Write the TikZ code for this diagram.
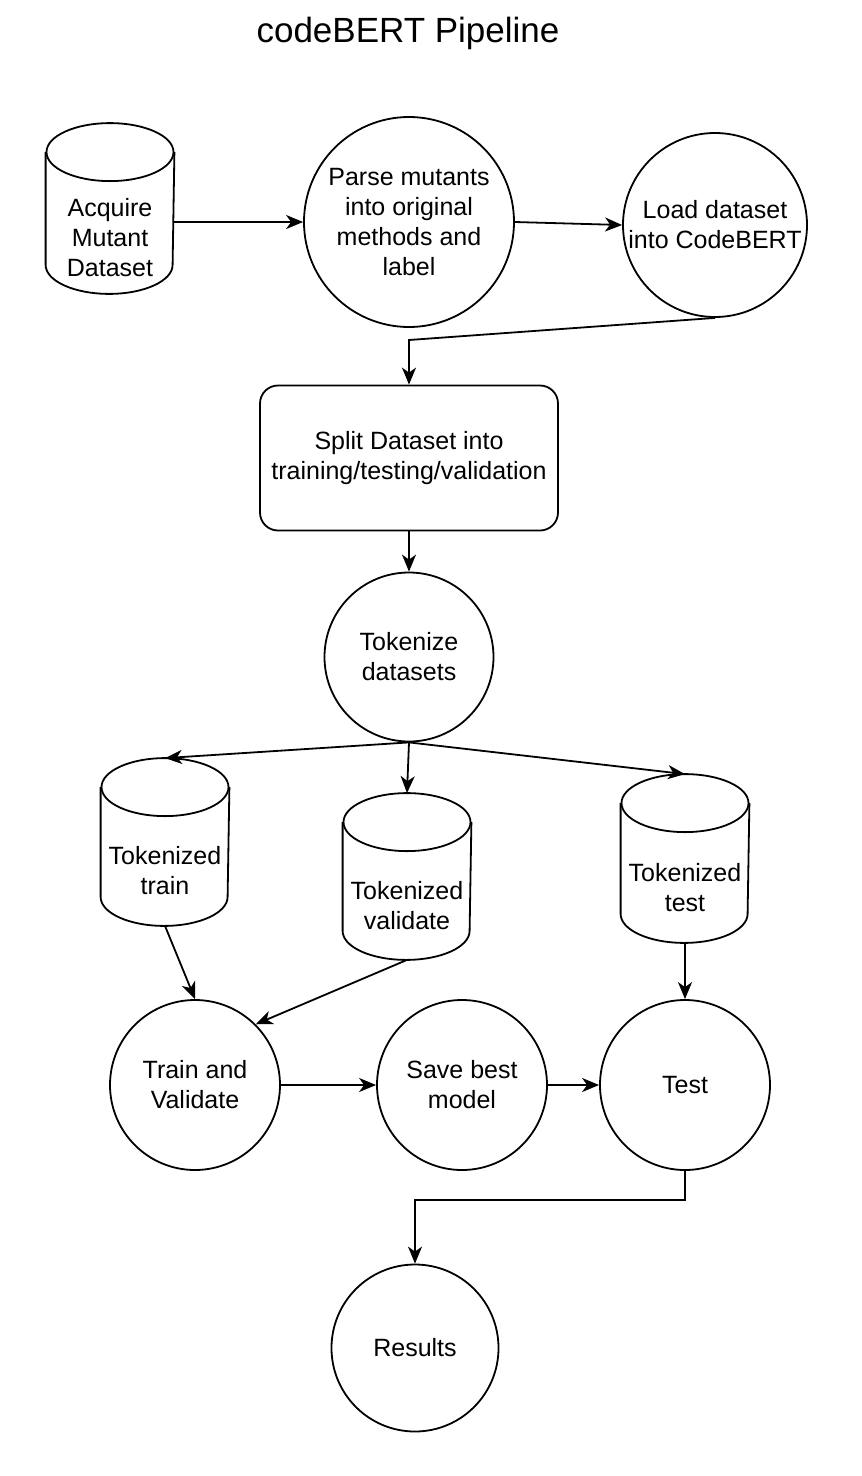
\documentclass[tikz,border=0pt]{standalone}
\usepackage{fontspec}
\setmainfont{Liberation Sans}
\usepackage{tikz}
\usetikzlibrary{arrows.meta}
\usetikzlibrary{calc}
\def\capry{29}
\tikzset{base/.style={draw, line width=1.8pt, align=center, inner sep=0pt,
        font=\fontsize{25}{30}\selectfont},
    process/.style={base, circle},
    tank/.style={base, draw=none, rectangle, minimum width=127pt, minimum height=#1},
    splitbox/.style={base, rectangle, rounded corners=18pt, minimum width=298pt, minimum height=145pt},
    arr/.style={line width=1.8pt, -{Stealth[length=17pt,width=14pt,inset=5pt]}}}
% cylinder outline round the body node #1
\newcommand{\drawtank}[1]{%
    \draw[line width=1.8pt] ($(#1.north west)+(0,-\capry)$) -- ($(#1.south west)+(0,-\capry)$)
        arc[start angle=180, end angle=360, x radius=63.5pt, y radius=\capry pt]
        -- ($(#1.north east)+(0,-\capry)$);
    \draw[line width=1.8pt] ($(#1.north)+(0,-\capry)$) ellipse [x radius=63.5pt, y radius=\capry pt];
    \coordinate (#1 top) at ($(#1.north)+(0,-2*\capry)$);
}

\begin{document}
\begin{tikzpicture}[x=1pt,y=-1pt]
    \useasboundingbox (0,0) rectangle (862,1476);
    \node[font=\fontsize{35}{42}\selectfont] (title) at (408,33) {codeBERT Pipeline};
    % top row
    \node[tank=111pt] (acquire) at (110,237.5) {Acquire\\Mutant\\Dataset};
    \node[process, minimum size=210pt] (parse) at (409,222) {Parse mutants\\into original\\methods and\\label};
    \node[process, minimum size=184pt] (load) at (715,225) {Load dataset\\into CodeBERT};
    \node[splitbox] (split) at (409,458) {Split Dataset into\\training/testing/validation};
    \node[process, minimum size=169pt] (tokenize) at (409,657) {Tokenize\\datasets};
    % tokenized sets
    \node[tank=108pt] (tktrain) at (165,871) {Tokenized\\train};
    \node[tank=107pt] (tkvalid) at (407,905.5) {Tokenized\\validate};
    \node[tank=109pt] (tktest) at (685,887.5) {Tokenized\\test};
    \drawtank{acquire}
    \drawtank{tktrain}
    \drawtank{tkvalid}
    \drawtank{tktest}
    % bottom row
    \node[process, minimum size=170pt] (trainval) at (195,1085) {Train and\\Validate};
    \node[process, minimum size=170pt] (save) at (462,1085) {Save best\\model};
    \node[process, minimum size=170pt] (test) at (685,1085) {Test};
    \node[process, minimum size=167pt] (results) at (415,1348) {Results};
    \coordinate (bend1) at (409,340);
    \coordinate (bend2) at (415,1200);

    \draw[arr] (acquire.east |- parse.west) -- (parse.west);
    \draw[arr] (parse.east) -- (load.west);
    \draw[arr] (load.south) -- (bend1) -- (split.north);
    \draw[arr] (split.south) -- (tokenize.north);
    \draw[arr] (tokenize.south) -- (tktrain top);
    \draw[arr] (tokenize.south) -- (tkvalid top);
    \draw[arr] (tokenize.south) -- (tktest top);
    \draw[arr] (tktrain.south) -- (trainval.north);
    \draw[arr] (tkvalid.south) -- (trainval.45);
    \draw[arr] (tktest.south) -- (test.north);
    \draw[arr] (trainval.east) -- (save.west);
    \draw[arr] (save.east) -- (test.west);
    \draw[arr] (test.south) |- (bend2) -- (results.north);
\end{tikzpicture}
\end{document}
